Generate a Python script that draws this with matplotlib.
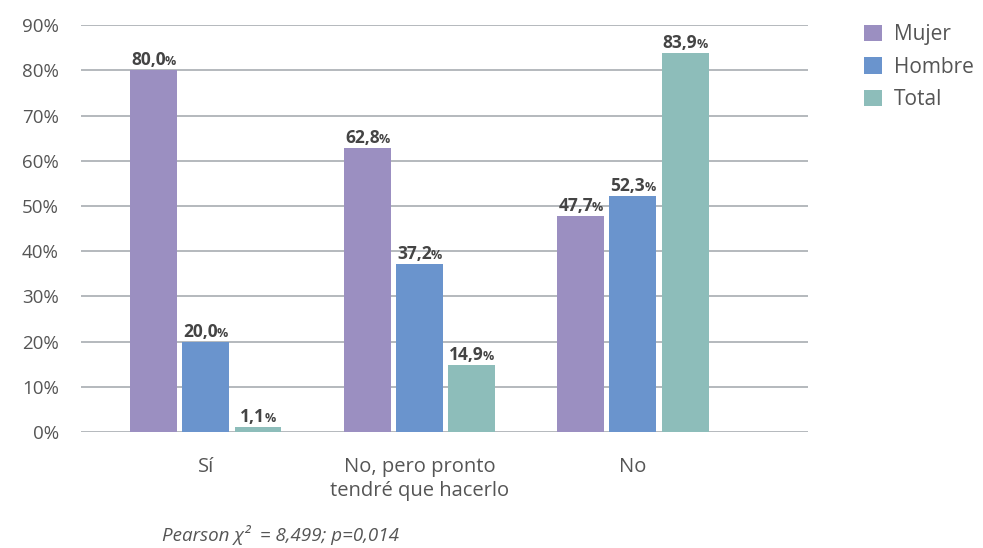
import matplotlib
matplotlib.use("Agg")
import matplotlib.pyplot as plt
import matplotlib.transforms as mtransforms
import numpy as np

categories = ["Sí", "No, pero pronto\ntendré que hacerlo", "No"]
series_names = ["Mujer", "Hombre", "Total"]
mujer = [80.0, 62.8, 47.7]
hombre = [20.0, 37.2, 52.3]
total = [1.1, 14.9, 83.9]
yticks = [0, 10, 20, 30, 40, 50, 60, 70, 80, 90]
note = "Pearson χ²  = 8,499; p=0,014"

colors = ["#9b8fc1", "#6a94cd", "#8dbdba"]
text_gray = "#555555"
label_gray = "#444444"
font = "Open Sans"

fig = plt.figure(figsize=(9.83, 5.48), dpi=100)
ax = fig.add_axes([0.0824, 0.2117, 0.7396, 0.7423])

x = np.arange(len(categories))
width = 0.22
step = 0.244
series = [mujer, hombre, total]
bars = []
for i, (vals, c, name) in enumerate(zip(series, colors, series_names)):
    b = ax.bar(x + (i - 1) * step, vals, width=width, color=c, label=name, zorder=3)
    bars.append(b)

ax.set_xlim(-0.585, 2.82)
ax.set_ylim(0, 90)
ax.set_yticks(yticks)
ax.set_yticklabels([f"{v}%" for v in yticks], fontsize=13.5, color=text_gray, family=font)
ax.yaxis.grid(True, color="#a8adb2", linewidth=1.2, zorder=0)
ax.set_axisbelow(True)
ax.tick_params(axis="y", length=0, pad=16)
ax.tick_params(axis="x", length=0, pad=18)
ax.set_xticks(x)
ax.set_xticklabels(categories, fontsize=14.5, color=text_gray, family=font, linespacing=1.25)
for s in ax.spines.values():
    s.set_visible(False)

# value labels: bold number followed by a smaller percent sign
fig.canvas.draw()
renderer = fig.canvas.get_renderer()
for b, vals in zip(bars, series):
    for rect, v in zip(b, vals):
        cx = rect.get_x() + rect.get_width() / 2
        num = f"{v:.1f}".replace(".", ",")
        t1 = ax.text(cx, v, num, ha="left", va="baseline", fontsize=12.5,
                     fontweight="bold", color=label_gray, family=font)
        t2 = ax.text(cx, v, "%", ha="left", va="baseline", fontsize=9,
                     fontweight="bold", color=label_gray, family=font)
        w1 = t1.get_window_extent(renderer).width - 1
        w2 = t2.get_window_extent(renderer).width
        tot = w1 + w2
        t1.set_transform(ax.transData + mtransforms.ScaledTranslation(
            -tot / 2 / fig.dpi, 5 / fig.dpi, fig.dpi_scale_trans))
        t2.set_transform(ax.transData + mtransforms.ScaledTranslation(
            (-tot / 2 + w1) / fig.dpi, 5 / fig.dpi, fig.dpi_scale_trans))

leg = fig.legend(loc="upper left", bbox_to_anchor=(0.86, 0.99), frameon=False,
                 prop={"family": font, "size": 15}, handlelength=0.85,
                 handleheight=0.85, handletextpad=0.6, labelspacing=0.55)
for t in leg.get_texts():
    t.set_color(text_gray)

fig.text(0.165, 0.005, note, fontsize=13.5, style="italic", color=text_gray,
         family=font, ha="left", va="bottom")

fig.savefig("out.png", dpi=100)
